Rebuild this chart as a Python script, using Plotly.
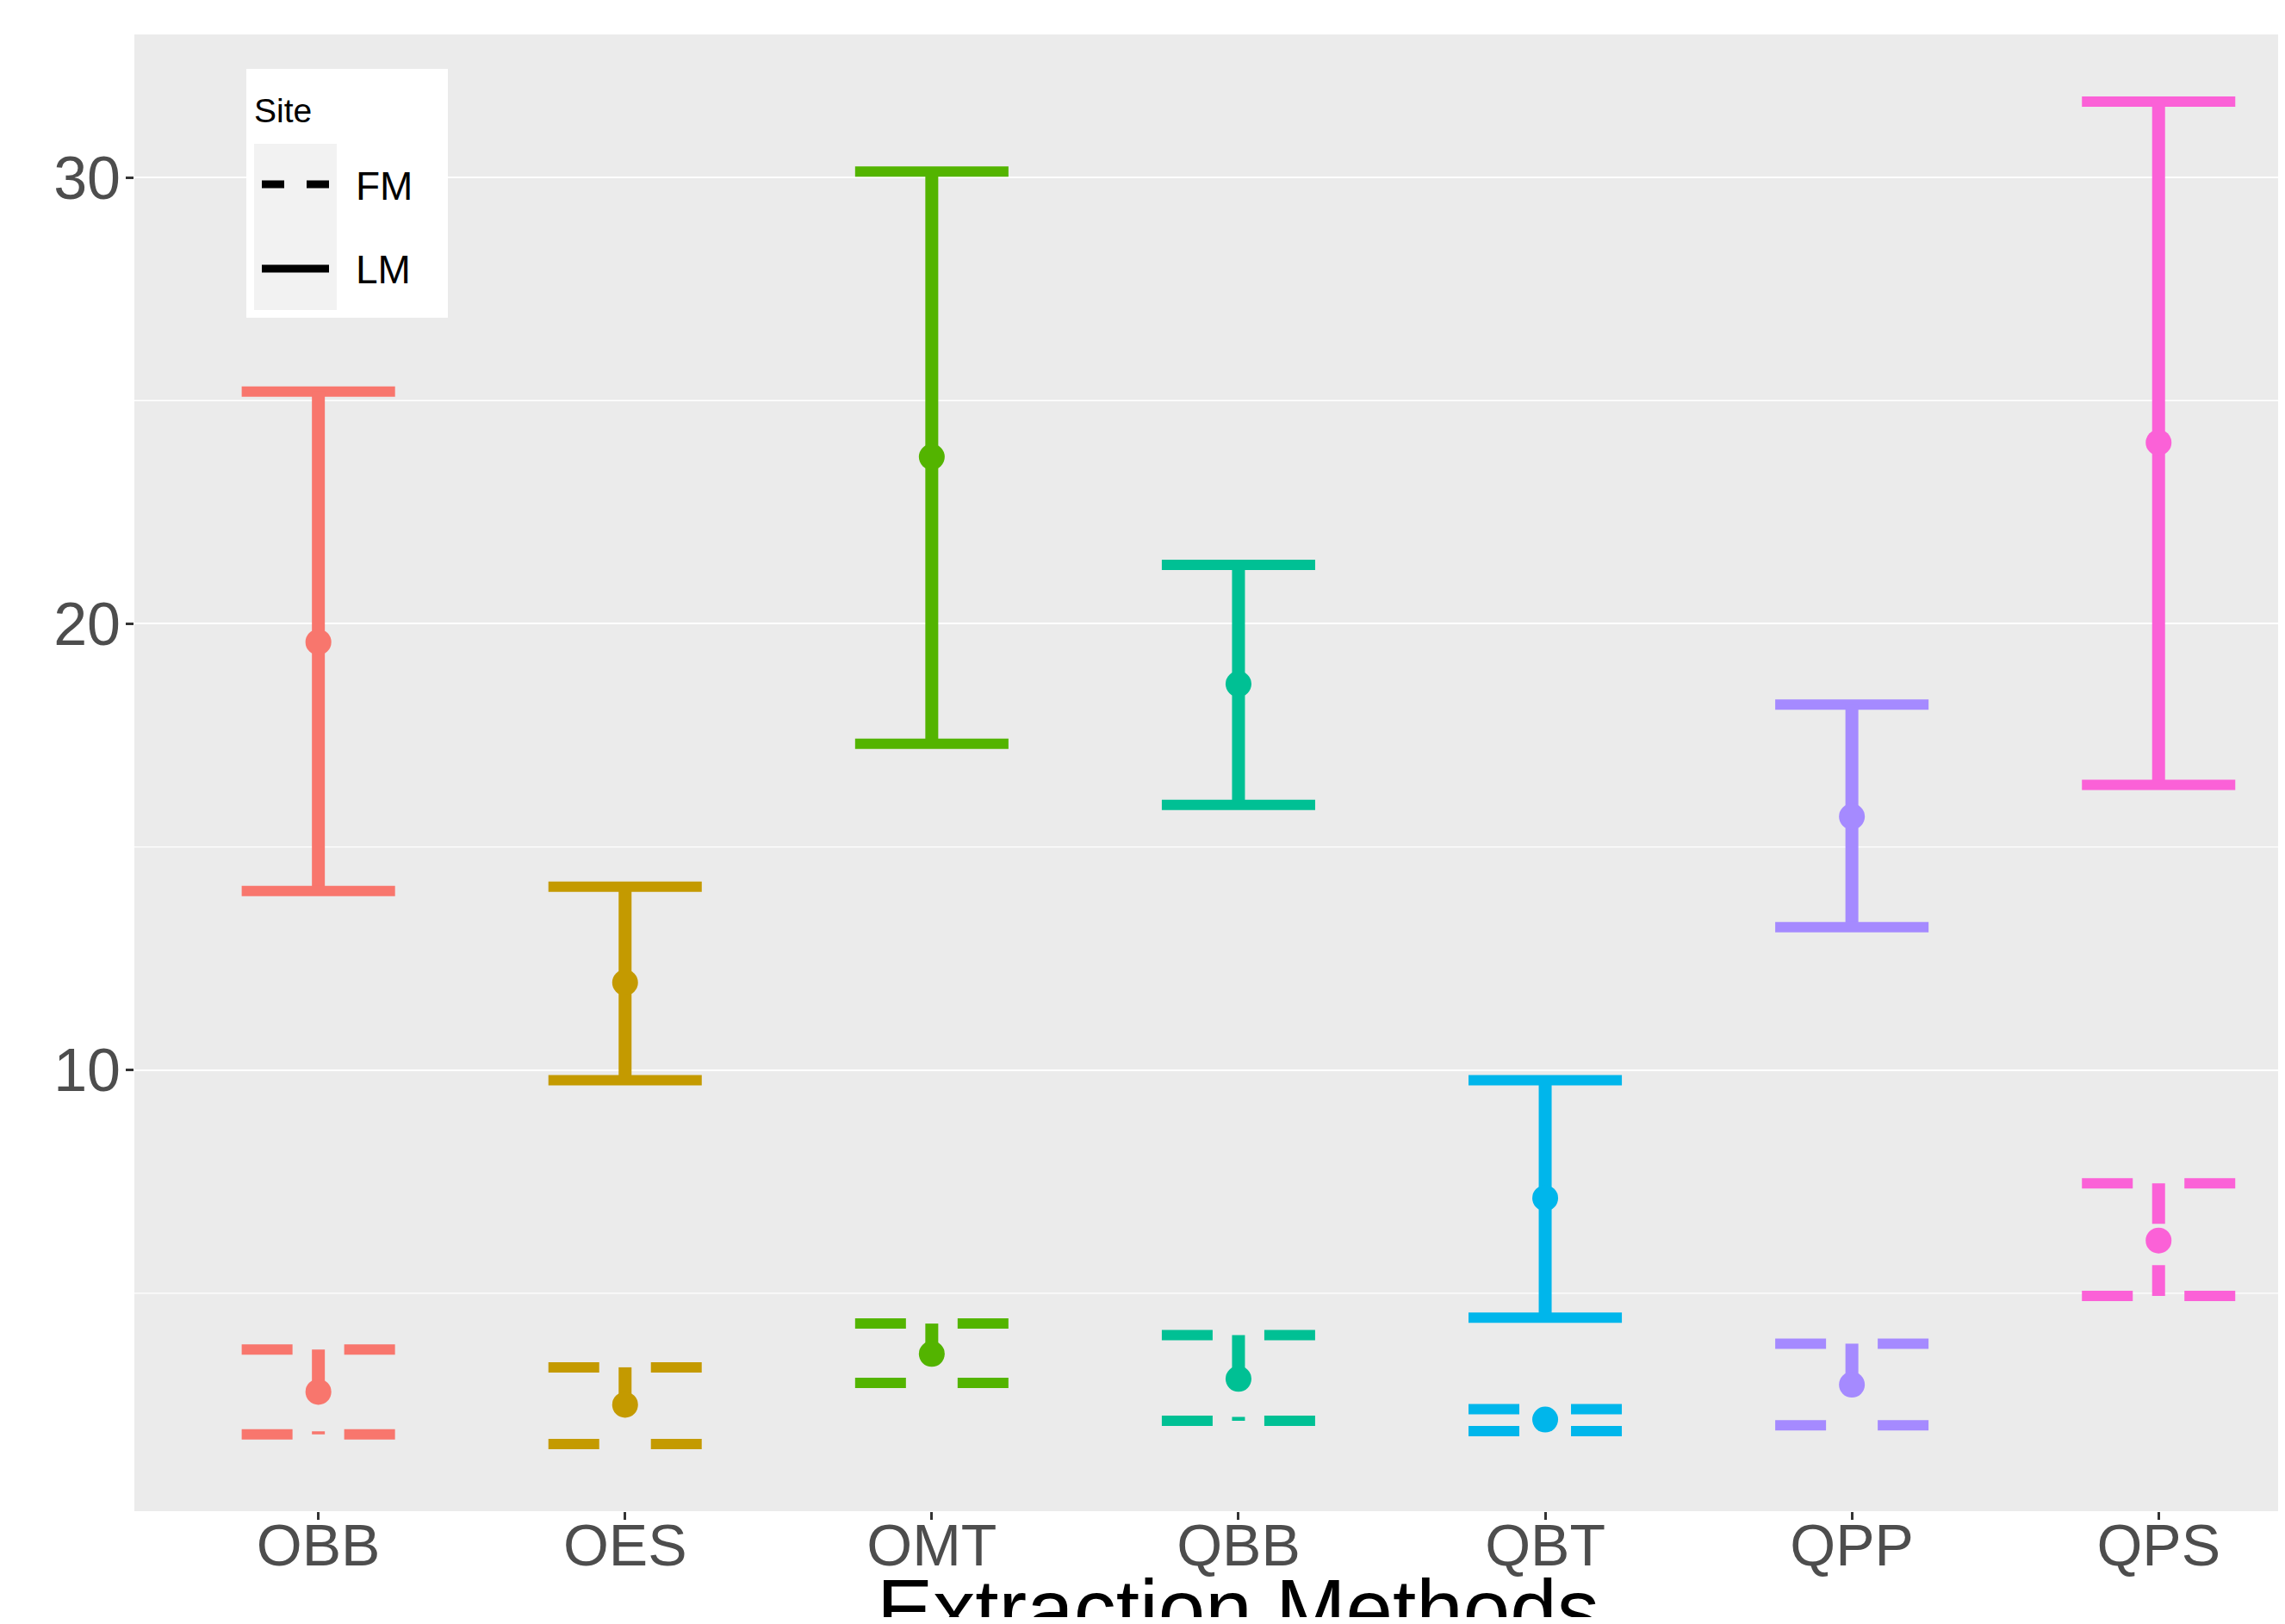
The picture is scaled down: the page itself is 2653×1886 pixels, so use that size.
import plotly.graph_objects as go

# ---------------- data ----------------
categories = ["OBB", "OES", "OMT", "QBB", "QBT", "QPP", "QPS"]
colors = ["#F8766D", "#C49A00", "#53B400", "#00C094", "#00B6EB", "#A58AFF", "#FB61D7"]

lm_mean = [19.59, 11.96, 23.74, 18.65, 7.13, 15.68, 24.06]
lm_low = [14.01, 9.77, 17.31, 15.94, 4.45, 13.20, 16.39]
lm_high = [25.20, 14.11, 30.13, 21.32, 9.77, 18.19, 31.70]

fm_mean = [2.79, 2.50, 3.64, 3.08, 2.17, 2.95, 6.18]
fm_low = [1.84, 1.62, 2.99, 2.14, 1.91, 2.04, 4.94]
fm_high = [3.74, 3.34, 4.32, 4.06, 2.40, 3.87, 7.46]

y_tickvals = [10, 20, 30]
y_minor = [5, 15, 25]

# ---------------- layout constants ----------------
OFF = 8                       # default body margin of the html page
W, H = 2653 - 2 * OFF, 1886 - 2 * OFF
# plot area in page pixels
PL, PT, PR, PB = 156, 40, 2645, 1755
L, T, R, B = PL - OFF, PT - OFF, PR - OFF, PB - OFF
FONT = "Liberation Sans, Arial, Helvetica, sans-serif"
LW_H = 12
LW_V = 15
HALF = 0.25
DASH_H = "59px,60px"
DASH_V = "47px,48px"
MARKER = 30

fig = go.Figure()


def seg(x0, x1, y0, y1, color, dash, width):
    fig.add_trace(go.Scatter(
        x=[x0, x1], y=[y0, y1], mode="lines",
        line=dict(color=color, width=width, dash=dash),
        showlegend=False, hoverinfo="skip"))


xs = list(range(1, len(categories) + 1))
for lows, highs, dh, dv in [(lm_low, lm_high, "solid", "solid"),
                            (fm_low, fm_high, DASH_H, DASH_V)]:
    for x, lo, hi, c in zip(xs, lows, highs, colors):
        seg(x - HALF, x + HALF, hi, hi, c, dh, LW_H)
        seg(x, x, hi, lo, c, dv, LW_V)
        seg(x - HALF, x + HALF, lo, lo, c, dh, LW_H)

for means in (lm_mean, fm_mean):
    fig.add_trace(go.Scatter(
        x=xs, y=means, mode="markers",
        marker=dict(color=colors, size=MARKER, line=dict(width=0)),
        showlegend=False, hoverinfo="skip"))

all_low = min(lm_low + fm_low)
all_high = max(lm_high + fm_high)
span = all_high - all_low
yr = [all_low - 0.05 * span, all_high + 0.05 * span]


def px2x(px):      # page px -> paper
    return (px - PL) / (PR - PL)


def px2y(py):      # page px -> paper
    return (PB - py) / (PB - PT)


shapes = []
for v in y_minor:
    shapes.append(dict(type="line", xref="paper", yref="y", x0=0, x1=1, y0=v, y1=v,
                       line=dict(color="white", width=1.3), layer="below"))
# manual legend
shapes.append(dict(type="rect", xref="paper", yref="paper",
                   x0=px2x(286), x1=px2x(520), y0=px2y(369), y1=px2y(80),
                   fillcolor="white", line=dict(width=0)))
shapes.append(dict(type="rect", xref="paper", yref="paper",
                   x0=px2x(295), x1=px2x(391), y0=px2y(360), y1=px2y(167),
                   fillcolor="#F2F2F2", line=dict(width=0)))
shapes.append(dict(type="line", xref="paper", yref="paper",
                   x0=px2x(304), x1=px2x(382), y0=px2y(214), y1=px2y(214),
                   line=dict(color="black", width=9, dash="26px,26px")))
shapes.append(dict(type="line", xref="paper", yref="paper",
                   x0=px2x(304), x1=px2x(382), y0=px2y(312), y1=px2y(312),
                   line=dict(color="black", width=9)))

annotations = [
    dict(text="Site", xref="paper", yref="paper", x=px2x(293), y=px2y(128),
         xanchor="left", yanchor="middle", showarrow=False,
         font=dict(family=FONT, size=39, color="black")),
    dict(text="FM", xref="paper", yref="paper", x=px2x(411), y=px2y(216),
         xanchor="left", yanchor="middle", showarrow=False,
         font=dict(family=FONT, size=46, color="black")),
    dict(text="LM", xref="paper", yref="paper", x=px2x(411), y=px2y(313),
         xanchor="left", yanchor="middle", showarrow=False,
         font=dict(family=FONT, size=46, color="black")),
    dict(text="Extraction Methods", xref="x", yref="paper", x=4, y=px2y(1812),
         xanchor="center", yanchor="top", showarrow=False,
         font=dict(family=FONT, size=98, color="black")),
]

x_right = 1 + (PR - 369) / 356.2

fig.update_layout(
    width=W, height=H,
    margin=dict(l=L, r=W - R, t=T, b=H - B, pad=0),
    paper_bgcolor="white", plot_bgcolor="#EBEBEB",
    showlegend=False,
    shapes=shapes, annotations=annotations,
    xaxis=dict(range=[0.4, x_right], tickvals=xs, ticktext=categories,
               showgrid=False, zeroline=False, showline=False,
               ticks="outside", ticklen=9, tickwidth=2.5, tickcolor="#333333",
               ticklabelstandoff=-29,
               tickfont=dict(family=FONT, size=68, color="#4D4D4D")),
    yaxis=dict(range=yr, tickvals=y_tickvals,
               showgrid=True, gridcolor="white", gridwidth=2.4,
               zeroline=False, showline=False,
               ticks="outside", ticklen=9, tickwidth=2.5, tickcolor="#333333",
               ticklabelstandoff=-8,
               tickfont=dict(family=FONT, size=70, color="#4D4D4D")),
)

fig.write_html("out.html")
